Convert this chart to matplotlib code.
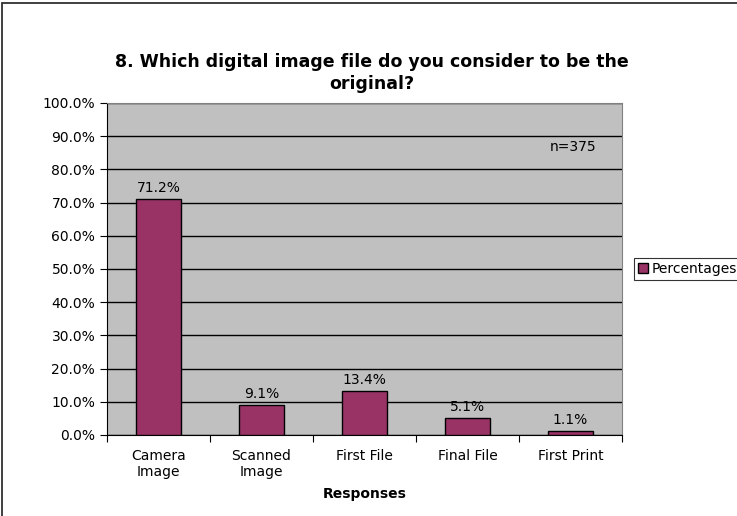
import numpy as np
import matplotlib.pyplot as plt
from matplotlib.patches import Rectangle

categories = ['Camera\nImage', 'Scanned\nImage', 'First File', 'Final File', 'First Print']
percentages = [71.2, 9.1, 13.4, 5.1, 1.1]
y_ticks = [0, 10, 20, 30, 40, 50, 60, 70, 80, 90, 100]

plt.rcParams['font.family'] = ['DejaVu Sans']

fig = plt.figure(figsize=(7.37, 5.16), dpi=100)
# chart border (runs off the right and bottom edges)
fig.patches.append(Rectangle((0.003, -0.05), 1.1, 1.044, transform=fig.transFigure,
                             fill=False, edgecolor='#303030', linewidth=1.3))

ax = fig.add_axes([107 / 737, 1 - 435 / 516, 515 / 737, 332 / 516])
ax.set_facecolor('#C0C0C0')

x = np.arange(len(categories))
ax.bar(x, percentages, width=0.43, color='#993366', edgecolor='black', linewidth=1.0,
       zorder=3, label='Percentages')
for xi, v in zip(x, percentages):
    ax.text(xi, v + 1.2, '%.1f%%' % v, ha='center', va='bottom', fontsize=10, zorder=4)

ax.set_xlim(-0.5, len(categories) - 0.5)
ax.set_ylim(0, 100)
ax.set_yticks(y_ticks)
ax.set_yticklabels(['%.1f%%' % t for t in y_ticks], fontsize=10)
ax.yaxis.grid(True, color='black', linewidth=1.0, zorder=1)
ax.set_axisbelow(True)

# category labels sit between the boundary ticks
ax.set_xticks(np.arange(len(categories) + 1) - 0.5)
ax.set_xticklabels([])
ax.set_xticks(x, minor=True)
ax.set_xticklabels(categories, minor=True, fontsize=10, linespacing=1.15)
ax.tick_params(axis='x', which='minor', length=0, pad=10)
ax.tick_params(axis='x', which='major', length=5, color='black')
ax.tick_params(axis='y', length=5, color='black')

for side in ['top', 'right']:
    ax.spines[side].set_color('#808080')
for side in ['left', 'bottom']:
    ax.spines[side].set_color('black')

ax.set_xlabel('Responses', fontsize=10, fontweight='bold', labelpad=6)
ax.text(0.951, 0.867, 'n=375', transform=ax.transAxes, ha='right', va='center', fontsize=10)

fig.text(0.505, 1 - 73 / 516, '8. Which digital image file do you consider to be the\noriginal?',
         ha='center', va='center', fontsize=12.5, fontweight='bold', linespacing=1.25)

leg = ax.legend(loc='center left', bbox_to_anchor=(634 / 737, 1 - 269 / 516),
                bbox_transform=fig.transFigure, fontsize=10, frameon=True, fancybox=False,
                handlelength=0.7, handleheight=0.7, handletextpad=0.3, borderpad=0.3,
                borderaxespad=0)
leg.get_frame().set_edgecolor('black')
leg.get_frame().set_linewidth(0.8)

fig.savefig('out.png', dpi=100)
